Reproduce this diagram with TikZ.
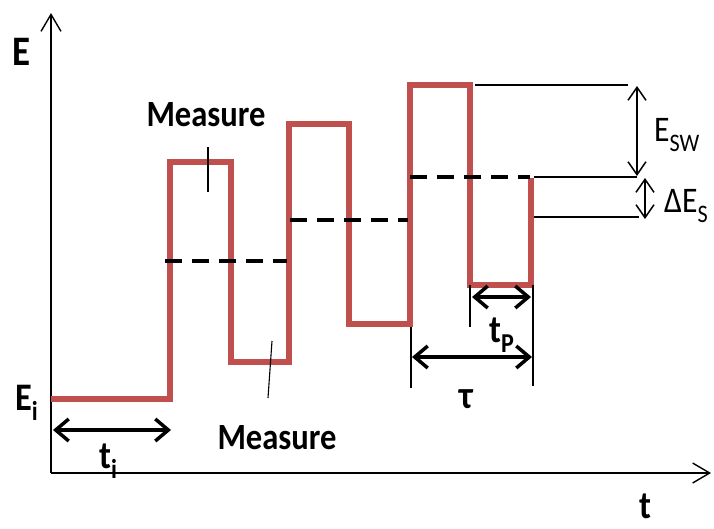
\documentclass[tikz,border=0pt]{standalone}
\usepackage{fontspec}
\setmainfont{Carlito}[FakeStretch=0.88]
\usetikzlibrary{arrows.meta}
\definecolor{pulsered}{HTML}{C0504D}
\newcommand{\lowsub}[1]{\raisebox{-0.28em}{\scalebox{0.7}{#1}}}

\begin{document}
\begin{tikzpicture}[x=1pt, y=-1pt,
  axis/.style={line width=1.6pt, -{Straight Barb[length=17pt,width=20pt,line width=1.4pt]}},
  pulse/.style={pulsered, line width=6pt, line join=miter},
  level/.style={line width=4pt, dash pattern=on 17pt off 10pt},
  leader/.style={line width=1.1pt},
  span/.style={line width=3.5pt, {Straight Barb[length=13pt,width=22pt]}-{Straight Barb[length=13pt,width=22pt]}},
  gap/.style={line width=1.5pt, {Straight Barb[length=13pt,width=18pt]}-{Straight Barb[length=13pt,width=18pt]}},
  lbl/.style={inner sep=0pt, anchor=base west, font=\bfseries\fontsize{39}{39}\selectfont},
  note/.style={inner sep=0pt, anchor=base, font=\bfseries\fontsize{37}{37}\selectfont}]
\useasboundingbox (0,0) rectangle (714,528);

% axes
\coordinate (O) at (51,473);
\coordinate (Etop) at (51,13);
\coordinate (tend) at (711,473);
\draw[axis] (O) -- (Etop);
\draw[axis] (O) -- (tend);

% energy pulses
\foreach \n/\x/\y in {0/51/399, 1/170/399, 2/170/162, 3/231/162, 4/231/362, 5/289/362,
  6/289/124, 7/349/124, 8/349/324, 9/410/324, 10/410/85, 11/470/85, 12/470/285,
  13/531/285, 14/531/178}
  \coordinate (w\n) at (\x,\y);
\draw[pulse] (w0) -- (w1) -- (w2) -- (w3) -- (w4) -- (w5) -- (w6) -- (w7)
  -- (w8) -- (w9) -- (w10) -- (w11) -- (w12) -- (w13) -- (w14);

% mean levels
\foreach \n/\xa/\xb/\y in {1/165/287/261, 2/290/408/220, 3/410/530/177} {
  \coordinate (la\n) at (\xa,\y);
  \coordinate (lb\n) at (\xb,\y);
  \draw[level] (la\n) -- (lb\n);
}

% right side levels
\coordinate (hiA) at (475,85);   \coordinate (hiB) at (628,85);
\coordinate (midA) at (534,177); \coordinate (midB) at (637,177);
\coordinate (lowA) at (534,217); \coordinate (lowB) at (639,217);
\draw[leader] (hiA) -- (hiB);
\draw[leader] (midA) -- (midB);
\draw[leader] (lowA) -- (lowB);
\coordinate (swT) at (637,86);  \coordinate (swB) at (637,176);
\coordinate (dsT) at (645,178); \coordinate (dsB) at (645,219);
\draw[gap] (swT) -- (swB);
\draw[gap] (dsT) -- (dsB);

% time marks
\coordinate (m1a) at (470,285); \coordinate (m1b) at (470,327);
\coordinate (m2a) at (533,285); \coordinate (m2b) at (533,386);
\coordinate (m3a) at (411,327); \coordinate (m3b) at (411,388);
\draw[leader] (m1a) -- (m1b);
\draw[leader] (m2a) -- (m2b);
\draw[leader] (m3a) -- (m3b);
\coordinate (tpA) at (472,297); \coordinate (tpB) at (531,297);
\coordinate (tauA) at (412,357); \coordinate (tauB) at (532,357);
\coordinate (tiA) at (53,430);  \coordinate (tiB) at (171,430);
\draw[span] (tpA) -- (tpB);
\draw[span] (tauA) -- (tauB);
\draw[span] (tiA) -- (tiB);

% measure pointers
\coordinate (ms1a) at (208,147); \coordinate (ms1b) at (208,192);
\coordinate (ms2a) at (272,341); \coordinate (ms2b) at (268,398);
\draw[leader] (ms1a) -- (ms1b);
\draw[leader] (ms2a) -- (ms2b);

% labels
\node[lbl, font=\bfseries\fontsize{42}{42}\selectfont] (Elab) at (12,65) {E};
\node[lbl] (Eilab) at (15,410) {E\lowsub{i}};
\node[lbl] (tilab) at (99,468) {t\lowsub{i}};
\node[lbl] (tplab) at (489,342) {t\lowsub{P}};
\node[lbl] (taulab) at (459,408) {τ};
\node[lbl] (tlab) at (639,518) {t};
\node[lbl, font=\fontsize{36}{36}\selectfont] (swlab) at (654,141) {E\lowsub{SW}};
\node[lbl, font=\fontsize{36}{36}\selectfont] (dslab) at (664,212) {ΔE\lowsub{S}};
\node[note] (meas1) at (206,126) {Measure};
\node[note] (meas2) at (277,449) {Measure};
\end{tikzpicture}
\end{document}
